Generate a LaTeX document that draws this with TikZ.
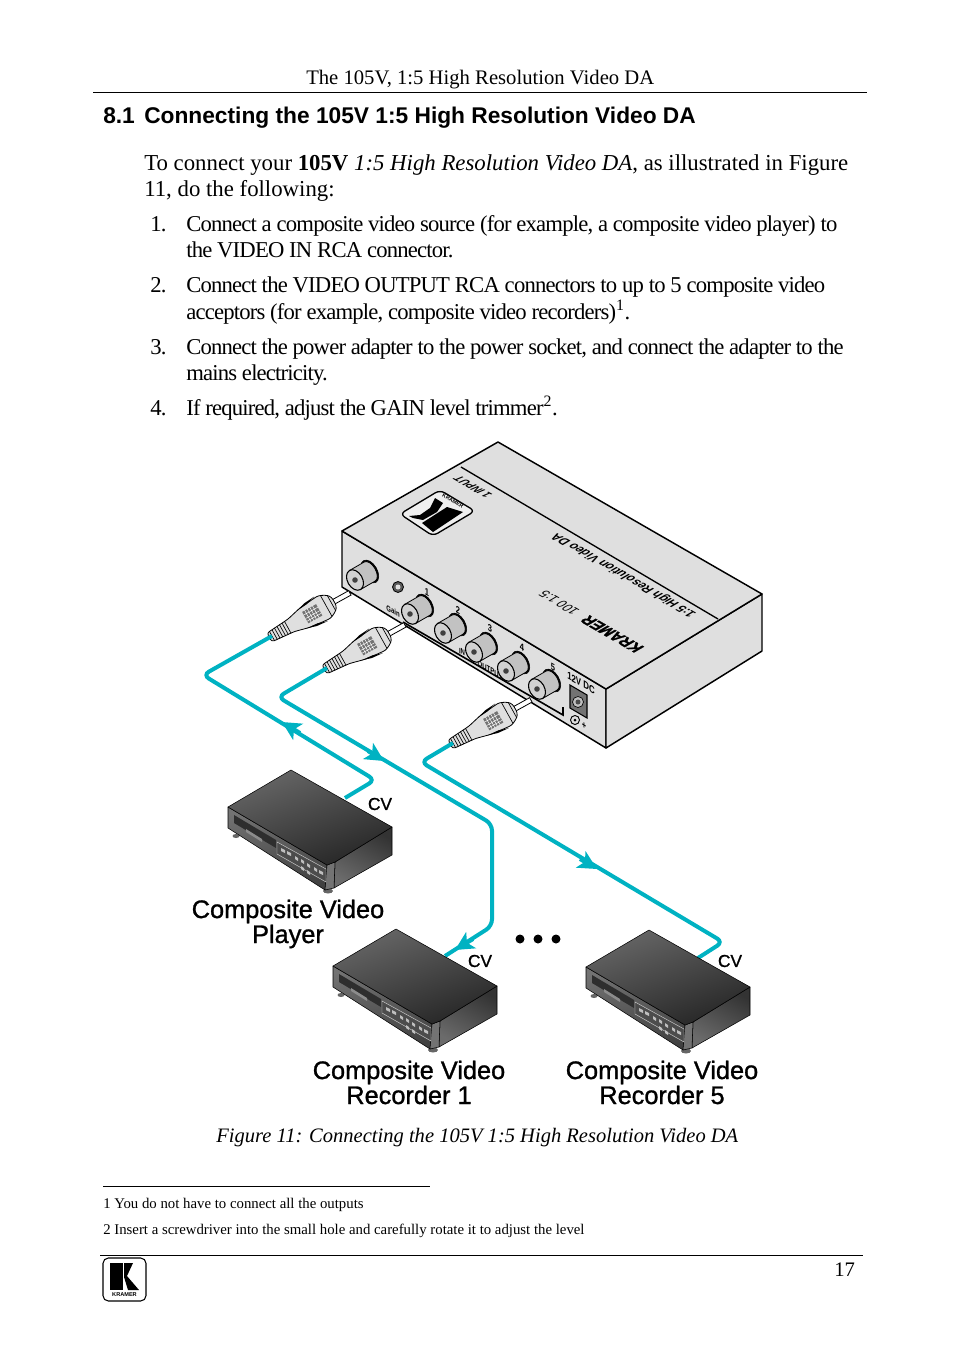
\documentclass[tikz,border=0pt]{standalone}
\usepackage{fontspec}
\setmainfont{Liberation Serif}
\setsansfont{Liberation Sans}
\newfontfamily\labelfont[FakeBold=1.1]{Liberation Sans}
\newfontfamily\heavyfont[FakeBold=1.5]{Liberation Sans Bold}
\newfontfamily\itemfont[LetterSpace=-3.6]{Liberation Serif}
\usetikzlibrary{arrows.meta,shadings}
\definecolor{cablecyan}{HTML}{00B2C2}
\definecolor{casegray}{HTML}{DFDFDF}
\tikzset{
	bodyline/.style={anchor=base west,inner sep=0pt,font=\fontsize{17.1pt}{20pt}\selectfont},
	itemline/.style={anchor=base west,inner sep=0pt,font=\itemfont\fontsize{17pt}{20pt}\selectfont},
	headline/.style={anchor=base west,inner sep=0pt,font=\sffamily\bfseries\fontsize{17.05pt}{20pt}\selectfont},
	footline/.style={anchor=base west,inner sep=0pt,font=\fontsize{11.1pt}{13pt}\selectfont},
	devlabel/.style={anchor=base,inner sep=0pt,font=\labelfont\fontsize{19pt}{23pt}\selectfont},
	cvlabel/.style={inner sep=0pt,font=\labelfont\fontsize{13pt}{16pt}\selectfont},
	rule/.style={line width=0.75pt},
	casing/.style={draw=black,fill=casegray,line width=1.1pt,line join=round},
	cable/.style={draw=cablecyan,line width=3pt,rounded corners=5pt},
	cablehead/.style={draw=cablecyan,line width=3pt,-{Stealth[length=14pt,width=14pt,inset=3.5pt]}},
	toptext/.style={inner sep=0pt,rotate=150,xslant=0.577,font=\sffamily\bfseries\fontsize{8.6pt}{9pt}\selectfont},
	facetext/.style={inner sep=0pt,rotate=-30,xslant=-0.577,font=\sffamily\bfseries\fontsize{6.5pt}{7pt}\selectfont},
	boxedge/.style={draw=black,line width=0.4pt,line join=round},
}
% RCA socket on the main box, axis going up to the right
\def\rcajack(#1){\begin{scope}[shift={(#1)},rotate=30]
	\draw[fill=black,draw=black] (17,0) ellipse (7.5 and 12.5);
	\draw[line width=0.6pt,fill=black!24] (0,-11) -- (17,-11) arc[start angle=-90,end angle=90,x radius=6,y radius=11] -- (0,11) -- cycle;
	\draw[line width=0.8pt,fill=black!18] (0,0) ellipse (7.5 and 11);
	\fill[black!75] (0,0) circle (2.8);
\end{scope}}
% moulded plug, from cable end (#1) to pin
\def\rcaplug(#1){\begin{scope}[shift={(#1)},rotate=29]
	\draw[line width=0.6pt,fill=white] (68,-2.5) rectangle (89,2.5);
	\draw[line width=0.6pt,fill=casegray,rounded corners=2pt] (-3,-5) -- (22,-7) -- (38,-11) -- (60,-13) -- (68,-9) -- (71,-5) -- (71,5) -- (68,9) -- (60,13) -- (38,11) -- (22,7) -- (-3,5) -- cycle;
	\draw[line width=0.5pt] (0,-5.5) -- (0,5.5) (3,-5.5) -- (3,5.5) (6,-6) -- (6,6) (9,-6) -- (9,6) (12,-6.5) -- (12,6.5) (15,-6.5) -- (15,6.5) (18,-7) -- (18,7);
	\fill[black] (34,-10) -- (44,-13) -- (56,-14) -- (46,-11) -- cycle;
	\fill[black] (34,10) -- (44,13) -- (56,14) -- (46,11) -- cycle;
	\fill[black!55] (38,-6.5) rectangle (54,6.5);
	\draw[white,line width=0.35pt] (41,-7) -- (41,7) (44,-7) -- (44,7) (47,-7) -- (47,7) (50,-7) -- (50,7) (38,-3) -- (54,-3) (38,1) -- (54,1) (38,4) -- (54,4);
	\draw[line width=0.5pt] (62,-12) -- (62,12) (68,-9) -- (68,9);
\end{scope}}
% player and recorder box, origin at its left top corner
\def\vcrbox(#1){\begin{scope}[shift={(#1)}]
	\fill[black!60] (8,29) ellipse (3.5 and 2) (100,84) ellipse (5 and 2.5);
	\path[boxedge,shading=axis,left color=black!55,right color=black!75,shading angle=10] (0,0) -- (99,58) -- (97,83) -- (0,21) -- cycle;
	\path[boxedge,shading=axis,left color=black!80,right color=black!58,shading angle=-30] (107,55) -- (164,20) -- (164,48) -- (106,81) -- cycle;
	\path[boxedge,fill=black!55] (99,58) -- (107,55) -- (106,81) -- (97,83) -- cycle;
	\path[boxedge,shading=axis,left color=black!60,middle color=black!78,right color=black!85,shading angle=20] (0,0) -- (63,-37) -- (164,20) -- (107,55) -- (99,58) -- cycle;
	\fill[black!82] (6,8) -- (48,33) -- (48,41) -- (6,16) -- cycle;
	\fill[black!45] (18,22) -- (34,32) -- (34,35) -- (18,25) -- cycle;
	\draw[line width=0.35pt,draw=black!20,fill=black!70] (49,35) -- (98,62) -- (98,75) -- (49,47) -- cycle;
	\fill[black!25] (53,41) -- (57,43) -- (57,46) -- (53,44) -- cycle (59,44) -- (63,46) -- (63,49) -- (59,47) -- cycle
		(67,49) -- (70,51) -- (70,54) -- (67,52) -- cycle (73,52) -- (76,54) -- (76,57) -- (73,55) -- cycle
		(79,56) -- (82,58) -- (82,61) -- (79,59) -- cycle (86,60) -- (89,62) -- (89,65) -- (86,63) -- cycle
		(91,63) -- (95,65) -- (95,68) -- (91,66) -- cycle (73,59) -- (76,61) -- (76,64) -- (73,62) -- cycle (79,63) -- (82,65) -- (82,68) -- (79,66) -- cycle;
\end{scope}}

\begin{document}
\begin{tikzpicture}[x=0.75pt,y=-0.75pt]
		%%%%% START %%%%%
		\useasboundingbox (0,0) rectangle (954,1354);
		
		\node[bodyline,font=\fontsize{15.5pt}{18pt}\selectfont] (header) at (306,84) {The 105V, 1:5 High Resolution Video DA};
		\draw[rule] (93,92) -- (867,92);
		\node[headline] (sectnum) at (103,123) {8.1};
		\node[headline] (secttitle) at (144,123) {Connecting the 105V 1:5 High Resolution Video DA};
		
		\node[bodyline] (introa) at (144,170) {To connect your \textbf{105V} \textit{1:5 High Resolution Video DA}, as illustrated in Figure};
		\node[bodyline] (introb) at (144,196) {11, do the following:};
		
		\node[itemline] (numa) at (150,231) {1.};
		\node[itemline] (itemaa) at (186,231) {Connect a composite video source (for example, a composite video player) to};
		\node[itemline] (itemab) at (186,257) {the VIDEO IN RCA connector.};
		\node[itemline] (numb) at (150,292) {2.};
		\node[itemline] (itemba) at (186,292) {Connect the VIDEO OUTPUT RCA connectors to up to 5 composite video};
		\node[itemline] (itembb) at (186,319) {acceptors (for example, composite video recorders)\textsuperscript{1}.};
		\node[itemline] (numc) at (150,354) {3.};
		\node[itemline] (itemca) at (186,354) {Connect the power adapter to the power socket, and connect the adapter to the};
		\node[itemline] (itemcb) at (186,380) {mains electricity.};
		\node[itemline] (numd) at (150,415) {4.};
		\node[itemline] (itemda) at (186,415) {If required, adjust the GAIN level trimmer\textsuperscript{2}.};
		
		%%%%% main box %%%%%
		\draw[casing] (342,531) -- (606,689) -- (606,748) -- (342,587) -- cycle;
		\draw[casing] (606,689) -- (762,594) -- (762,651) -- (606,748) -- cycle;
		\draw[casing] (342,531) -- (498,442) -- (762,594) -- (606,689) -- cycle;
		\draw[line width=1pt] (461,467) -- (718,619);
		\draw[line width=1.2pt] (403,622) -- (563,715) -- (563,707);
		
		\draw[line width=1pt,rounded corners=4pt,fill=white!50!casegray] (440,490) -- (475,511) -- (433,536) -- (400,514) -- cycle;
		\fill[black] (435,498) -- (430,508) -- (420,515) -- (409,516) -- (413,518) -- (423,520) -- (437,512) -- (443,503) -- cycle;
		\fill[black] (447,507) -- (463,512) -- (433,532) -- (422,523) -- cycle;
		\node[inner sep=0pt,rotate=-30,font=\sffamily\bfseries\fontsize{4pt}{5pt}\selectfont] (boxlogo) at (453,501) {KRAMER};
		
		\node[toptext,font=\sffamily\bfseries\itshape\fontsize{7.4pt}{8pt}\selectfont] (toplabel) at (473,487) {1 INPUT};
		\node[toptext] (topname) at (624,575) {1:5 High Resolution Video DA};
		\node[toptext,font=\sffamily\fontsize{9pt}{10pt}\selectfont] (topmodel) at (559,603) {100 1:5};
		\node[toptext,font=\heavyfont\fontsize{11pt}{12pt}\selectfont] (topmaker) at (612,634) {KRAMER};
		
		\node[facetext,font=\sffamily\bfseries\fontsize{5.2pt}{6pt}\selectfont] (gainlabel) at (393,611) {Gain};
		\node[facetext,font=\sffamily\bfseries\fontsize{5.2pt}{6pt}\selectfont] (inlabel) at (462,652) {IN};
		\node[facetext,font=\sffamily\bfseries\fontsize{5.2pt}{6pt}\selectfont] (outlabel) at (490,670) {OUTPUT};
		
		\rcajack(355,580)
		\draw[fill=black!65,line width=0.6pt] (398,587) circle (5.5);
		\fill[casegray] (398,587) circle (2.5);
		\rcajack(410,614)
		\rcajack(443,633)
		\rcajack(474,652)
		\rcajack(506,671)
		\rcajack(537,689)
		\node[facetext] (numone) at (427,592) {1};
		\node[facetext] (numtwo) at (458,610) {2};
		\node[facetext] (numthree) at (490,628) {3};
		\node[facetext] (numfour) at (522,647) {4};
		\node[facetext] (numfive) at (553,667) {5};
		
		\node[facetext,font=\sffamily\bfseries\fontsize{6.8pt}{7pt}\selectfont] (powerlabel) at (581,683) {12V DC};
		\draw[line width=0.8pt,fill=black!55] (570,685) -- (587,695) -- (587,718) -- (570,708) -- cycle;
		\draw[fill=black!25,line width=0.5pt] (578,702) circle (5.5);
		\fill[black!70] (578,702) circle (2.5);
		\draw[line width=0.7pt] (575,720) circle (4.5);
		\fill[black] (575,720) circle (1.5);
		\node[facetext] (pluslabel) at (584,726) {+};
		
		%%%%% plugs and cables %%%%%
		\coordinate (tipin) at (272,636);
		\coordinate (tipone) at (327,668);
		\coordinate (tipfive) at (453,743);
		\rcaplug(tipin)
		\rcaplug(tipone)
		\rcaplug(tipfive)
		
		\coordinate (playerjack) at (345,798);
		\coordinate (recorderjack) at (445,956);
		\coordinate (lastjack) at (698,958);
		\draw[cable] (tipin) -- (203,675) -- (375,780) -- (playerjack);
		\draw[cable] (tipone) -- (278,697) -- (492,824) -- (492,926) -- (recorderjack);
		\draw[cable] (tipfive) -- (421,762) -- (723,942) -- (lastjack);
		
		\draw[cablehead] (300,733) -- (282,722);
		\draw[cablehead] (368,751) -- (384,761);
		\draw[cablehead] (580,859) -- (597,869);
		\draw[cablehead] (473,939) -- (455,950);
		
		%%%%% source and recorders %%%%%
		\vcrbox(228,807)
		\vcrbox(333,966)
		\vcrbox(586,967)
		
		\node[cvlabel] (cvplayer) at (380,804) {CV};
		\node[cvlabel] (cvrecorder) at (480,961) {CV};
		\node[cvlabel] (cvlast) at (730,961) {CV};
		
		\node[devlabel] (playera) at (288,918) {Composite Video};
		\node[devlabel] (playerb) at (288,943) {Player};
		\node[devlabel] (recordera) at (409,1079) {Composite Video};
		\node[devlabel] (recorderb) at (409,1104) {Recorder 1};
		\node[devlabel] (lasta) at (662,1079) {Composite Video};
		\node[devlabel] (lastb) at (662,1104) {Recorder 5};
		
		\fill[black] (520,939) circle (4.5);
		\fill[black] (538,939) circle (4.5);
		\fill[black] (556,939) circle (4.5);
		
		\node[bodyline,font=\itshape\fontsize{15.4pt}{18pt}\selectfont] (caption) at (216,1142) {Figure 11: Connecting the 105V 1:5 High Resolution Video DA};
		
		\draw[rule] (103,1186) -- (430,1186);
		\node[footline] (notea) at (103,1208) {1 You do not have to connect all the outputs};
		\node[footline] (noteb) at (103,1234) {2 Insert a screwdriver into the small hole and carefully rotate it to adjust the level};
		
		\draw[rule] (100,1255) -- (863,1255);
		\node[bodyline,font=\fontsize{15.5pt}{18pt}\selectfont] (pagenum) at (834,1276) {17};
		\draw[line width=0.8pt,rounded corners=4pt] (103,1258) rectangle (146,1301);
		\fill[black] (110,1263) rectangle (123,1290);
		\fill[black] (124,1263) -- (133,1263) -- (127,1276) -- (139,1290) -- (128,1290) -- (124,1277) -- cycle;
		\node[inner sep=0pt,font=\sffamily\bfseries\fontsize{4.2pt}{5pt}\selectfont] (footlogo) at (124.5,1294.5) {KRAMER};
		
		%%%%% END %%%%%
	\end{tikzpicture}
\end{document}
